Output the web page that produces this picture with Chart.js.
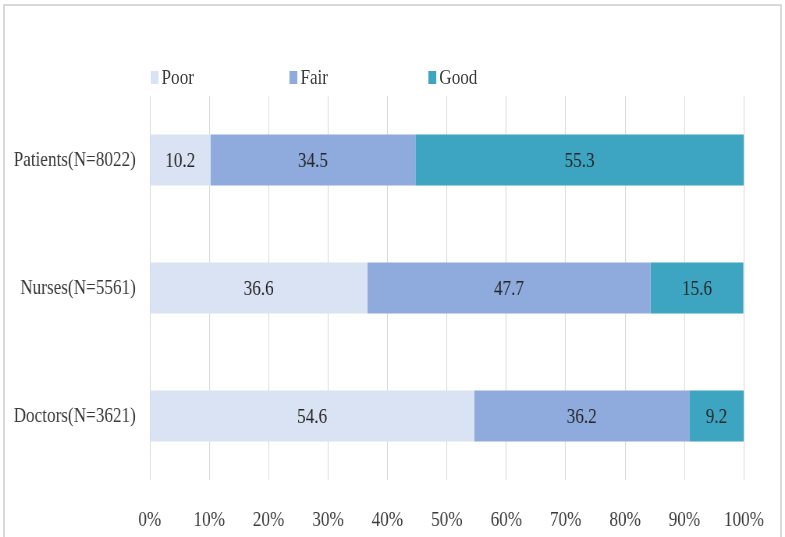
<!DOCTYPE html>
<html>
<head>
<meta charset="utf-8">
<script src="https://cdn.jsdelivr.net/npm/chart.js@4"></script>
<style>
    html, body { margin: 0; padding: 0; background: #fff; }
    body { width: 785px; height: 537px; overflow: hidden; position: relative; }
    #frame {
        position: absolute; left: 3px; top: 4px; width: 775px; height: 540px;
        border: 2px solid #d9d9d9; pointer-events: none;
    }
    /* the reference is horizontally squeezed, so draw wide and squeeze */
    #wrap {
        position: absolute; left: 0; top: 0; width: 1006px; height: 537px;
        transform: scaleX(0.7803); transform-origin: 0 0;
    }
    #legend {
        position: absolute; left: 193px; top: 64px; display: flex;
        font-family: "Liberation Serif", serif; font-size: 22px; color: #3a3a3a;
    }
    .item { width: 178px; display: flex; align-items: center; }
    .box { width: 10px; height: 13px; margin-right: 4px; }
</style>
</head>
<body>
<div id="wrap">
    <div id="legend"></div>
    <canvas id="surveyChart" width="1006" height="537"></canvas>
</div>
<div id="frame"></div>
<script>
const categories = ['Patients(N=8022)', 'Nurses(N=5561)', 'Doctors(N=3621)'];
const seriesNames = ['Poor', 'Fair', 'Good'];
const poorValues = [10.2, 36.6, 54.6];
const fairValues = [34.5, 47.7, 36.2];
const goodValues = [55.3, 15.6, 9.2];
const seriesColors = ['#dae3f3', '#8faadc', '#3da5c2'];

const FONT = '"Liberation Serif", serif';
const TEXT_COLOR = '#3a3a3a';

const valueLabels = {
    id: 'valueLabels',
    afterDatasetsDraw(chart) {
        const ctx = chart.ctx;
        ctx.save();
        ctx.font = '22px ' + FONT;
        ctx.fillStyle = '#262626';
        ctx.textAlign = 'center';
        ctx.textBaseline = 'middle';
        chart.data.datasets.forEach((ds, i) => {
            chart.getDatasetMeta(i).data.forEach((bar, j) => {
                ctx.fillText(ds.data[j].toFixed(1), (bar.x + bar.base) / 2, bar.y + 1);
            });
        });
        ctx.restore();
    }
};

function buildLegend() {
    const legend = document.getElementById('legend');
    seriesNames.forEach((name, i) => {
        const item = document.createElement('div');
        item.className = 'item';
        const box = document.createElement('span');
        box.className = 'box';
        box.style.background = seriesColors[i];
        item.appendChild(box);
        item.appendChild(document.createTextNode(name));
        legend.appendChild(item);
    });
}

function renderChart() {
    const ctx = document.getElementById('surveyChart').getContext('2d');
    const values = [poorValues, fairValues, goodValues];

    new Chart(ctx, {
        type: 'bar',
        data: {
            labels: categories,
            datasets: seriesNames.map((name, i) => ({
                label: name,
                data: values[i],
                backgroundColor: seriesColors[i],
                borderWidth: 0,
                categoryPercentage: 1,
                barPercentage: 0.4
            }))
        },
        options: {
            indexAxis: 'y',
            responsive: false,
            animation: false,
            layout: { padding: { top: 96, right: 45, bottom: 0, left: 0 } },
            plugins: {
                legend: { display: false },
                tooltip: { enabled: false }
            },
            scales: {
                x: {
                    stacked: true,
                    min: 0,
                    max: 100,
                    grid: { color: '#d9d9d9', lineWidth: 1, drawTicks: false },
                    border: { display: false },
                    ticks: {
                        stepSize: 10,
                        padding: 27,
                        color: TEXT_COLOR,
                        font: { family: FONT, size: 22 },
                        callback: v => v + '%'
                    },
                    afterFit: scale => { scale.height = 57; }
                },
                y: {
                    stacked: true,
                    grid: { display: false },
                    border: { display: false },
                    ticks: {
                        padding: 10,
                        color: TEXT_COLOR,
                        font: { family: FONT, size: 22 }
                    },
                    afterFit: scale => { scale.width = 192; }
                }
            }
        },
        plugins: [valueLabels]
    });
}

document.addEventListener('DOMContentLoaded', () => {
    buildLegend();
    renderChart();
});
</script>
</body>
</html>
